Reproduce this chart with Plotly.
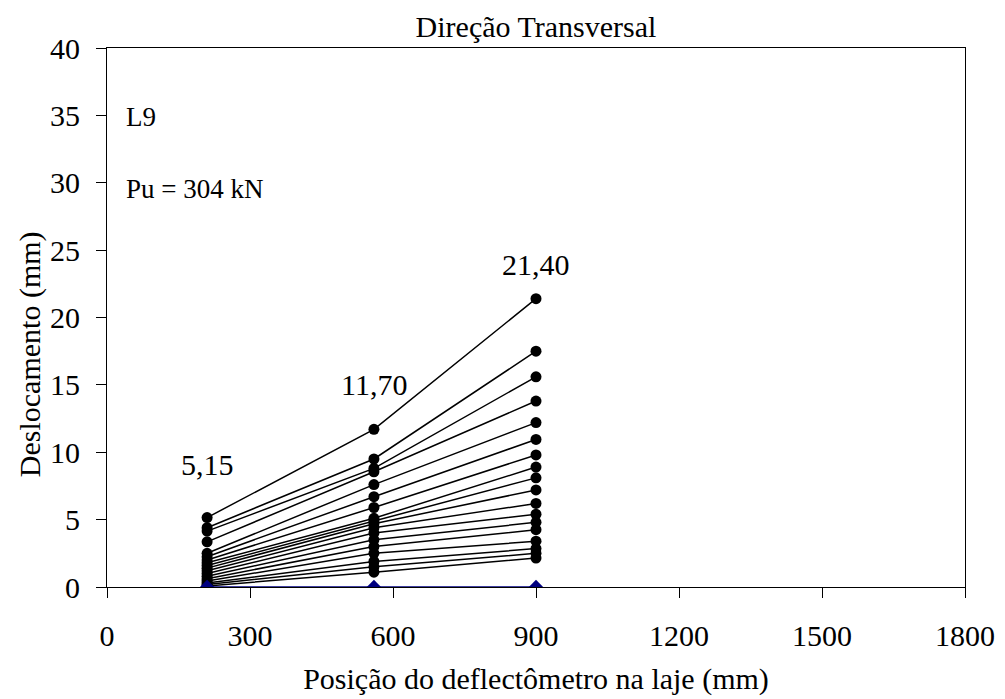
import plotly.graph_objects as go

positions = [210, 560, 900]

# displacement (mm) per load step, at each deflectometer position
series_values = [
    [5.15, 11.70, 21.40],
    [4.40, 9.50, 17.50],
    [4.15, 8.80, 15.60],
    [3.35, 8.55, 13.80],
    [2.50, 7.60, 12.20],
    [2.25, 6.70, 10.95],
    [2.00, 5.90, 9.80],
    [1.80, 5.10, 8.90],
    [1.60, 4.90, 8.10],
    [1.40, 4.70, 7.20],
    [1.20, 4.40, 6.20],
    [1.00, 4.00, 5.40],
    [0.80, 3.50, 4.80],
    [0.62, 3.00, 4.25],
    [0.45, 2.50, 3.40],
    [0.30, 1.90, 2.85],
    [0.18, 1.50, 2.50],
    [0.08, 1.10, 2.15],
]
zero_values = [0, 0, 0]

label_texts = ["5,15", "11,70", "21,40"]
label_y = [9.1, 15.0, 23.9]

x_ticks = [0, 300, 600, 900, 1200, 1500, 1800]
y_ticks = [0, 5, 10, 15, 20, 25, 30, 35, 40]

font_family = "Times New Roman"

fig = go.Figure()
for vals in series_values:
    fig.add_trace(go.Scatter(
        x=positions, y=vals, mode="lines+markers",
        line=dict(color="black", width=1.5),
        marker=dict(symbol="circle", size=11, color="black"),
        showlegend=False, hoverinfo="x+y",
    ))
fig.add_trace(go.Scatter(
    x=positions, y=zero_values, mode="lines+markers",
    line=dict(color="#000080", width=1.5),
    marker=dict(symbol="diamond", size=11, color="#000080"),
    showlegend=False,
))

for xv, txt, yv in zip(positions, label_texts, label_y):
    fig.add_annotation(x=xv, y=yv, text=txt, showarrow=False,
                       font=dict(family=font_family, size=30, color="black"))

fig.add_annotation(x=36, y=34.9, text="L9", showarrow=False, xanchor="left",
                   font=dict(family=font_family, size=27, color="black"))
fig.add_annotation(x=36, y=29.5, text="Pu = 304 kN", showarrow=False, xanchor="left",
                   font=dict(family=font_family, size=27, color="black"))

# y-axis title (placed slightly below the plot centre, as in the reference)
fig.add_annotation(xref="paper", yref="paper", x=-0.0897, y=0.432,
                   text="Deslocamento (mm)", textangle=-90, showarrow=False,
                   xanchor="center", yanchor="middle",
                   font=dict(family=font_family, size=30, color="black"))

fig.update_layout(
    width=997, height=691,
    margin=dict(l=99, r=40, t=40, b=112, autoexpand=False),
    paper_bgcolor="white", plot_bgcolor="white",
    font=dict(family=font_family, color="black"),
    title=dict(text="Direção Transversal", x=0.5, xanchor="center",
               xref="paper", yref="container", y=1 - 18 / 691, yanchor="middle",
               font=dict(family=font_family, size=30, color="black")),
)
fig.update_xaxes(
    range=[0, 1800], tickvals=x_ticks, ticktext=[str(v) for v in x_ticks],
    showgrid=False, zeroline=False, showline=True, linecolor="black", linewidth=1,
    mirror=True, ticks="outside", ticklen=10, tickcolor="black", automargin=False,
    ticklabelstandoff=12,
    tickfont=dict(family=font_family, size=30, color="black"),
    title=dict(text="Posição do deflectômetro na laje (mm)", standoff=16,
               font=dict(family=font_family, size=30, color="black")),
)
fig.update_yaxes(
    range=[0, 40], tickvals=y_ticks, ticktext=[str(v) for v in y_ticks],
    showgrid=False, zeroline=False, showline=True, linecolor="black", linewidth=1,
    mirror=True, ticks="outside", ticklen=10, tickcolor="black", automargin=False,
    ticklabelstandoff=10,
    tickfont=dict(family=font_family, size=30, color="black"),
)

fig.write_html("out.html")
